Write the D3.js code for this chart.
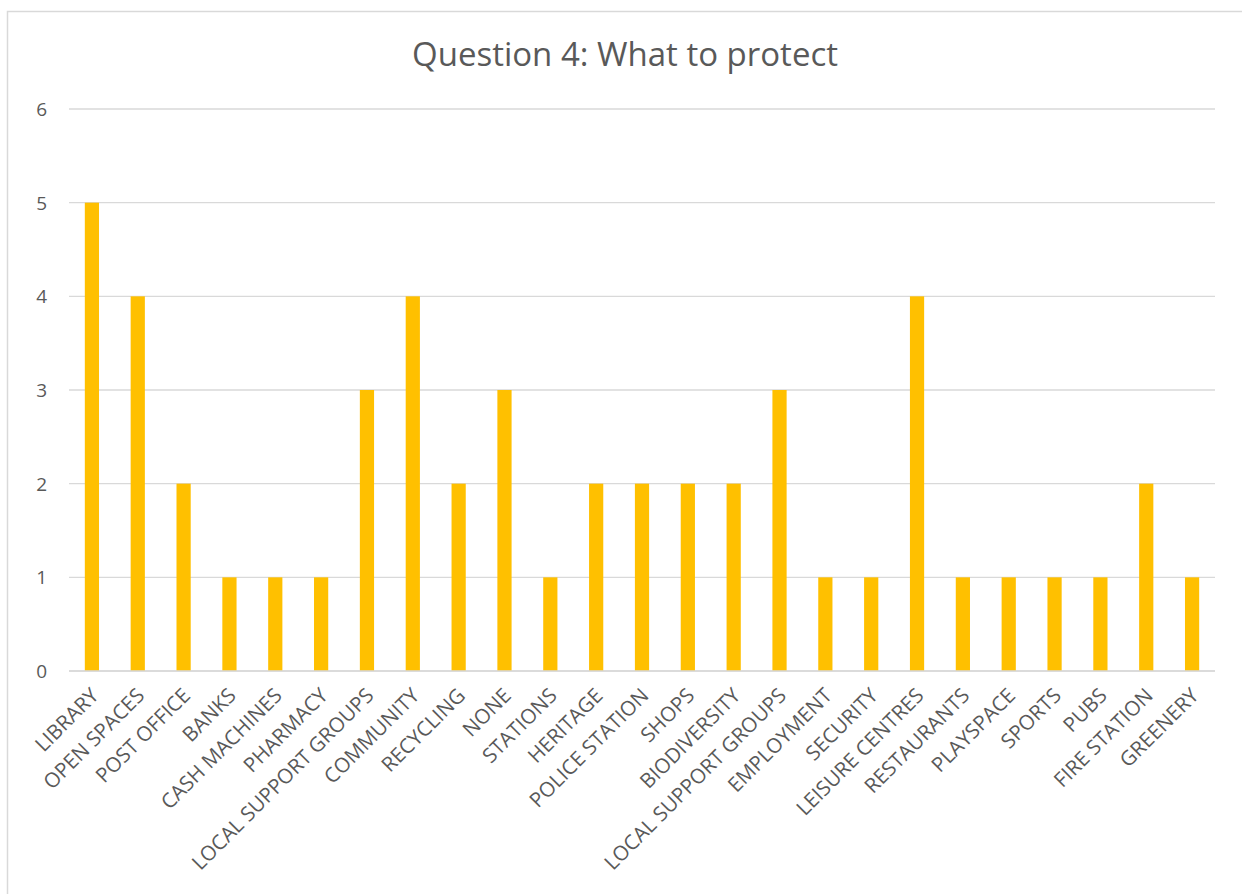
<!DOCTYPE html>
<html>
<head>
<meta charset="utf-8">
<script src="https://cdn.jsdelivr.net/npm/d3@7"></script>
<style>
  html, body { margin: 0; padding: 0; background: #fff; }
  svg { display: block; }
</style>
</head>
<body>
<svg id="chart" width="1242" height="894"></svg>
<script>
// Responses to Question 4
const categories = [
  "LIBRARY", "OPEN SPACES", "POST OFFICE", "BANKS", "CASH MACHINES", "PHARMACY",
  "LOCAL SUPPORT GROUPS", "COMMUNITY", "RECYCLING", "NONE", "STATIONS", "HERITAGE",
  "POLICE STATION", "SHOPS", "BIODIVERSITY", "LOCAL SUPPORT GROUPS", "EMPLOYMENT",
  "SECURITY", "LEISURE CENTRES", "RESTAURANTS", "PLAYSPACE", "SPORTS", "PUBS",
  "FIRE STATION", "GREENERY"
];
const counts = [5, 4, 2, 1, 1, 1, 3, 4, 2, 3, 1, 2, 2, 2, 2, 3, 1, 1, 4, 1, 1, 1, 1, 2, 1];
const yTicks = [0, 1, 2, 3, 4, 5, 6];
const title = "Question 4: What to protect";

const svg = d3.select("#chart");
const font = "'Open Sans', 'Noto Sans', sans-serif";
const textColor = "#595959";

// chart frame
svg.append("rect")
  .attr("x", 7.5).attr("y", 11.5)
  .attr("width", 1260).attr("height", 900)
  .attr("fill", "#fff")
  .attr("stroke", "#d9d9d9").attr("stroke-width", 1.5);

const plot = { left: 69, right: 1215, top: 109, bottom: 671 };

const x = d3.scaleBand()
  .domain(d3.range(categories.length))
  .range([plot.left, plot.right])
  .paddingInner(0.69)
  .paddingOuter(0.345);

const y = d3.scaleLinear()
  .domain([0, 6])
  .range([plot.bottom, plot.top]);

// gridlines
svg.append("g")
  .selectAll("line")
  .data(yTicks)
  .join("line")
  .attr("x1", plot.left).attr("x2", plot.right)
  .attr("y1", d => y(d)).attr("y2", d => y(d))
  .attr("stroke", "#d9d9d9").attr("stroke-width", 1.3);

// y axis labels
svg.append("g")
  .selectAll("text")
  .data(yTicks)
  .join("text")
  .attr("x", 47).attr("y", d => y(d))
  .attr("dy", "0.36em")
  .attr("text-anchor", "end")
  .attr("font-family", font).attr("font-size", 19)
  .attr("fill", textColor)
  .text(d => d);

// bars
svg.append("g")
  .selectAll("rect")
  .data(counts)
  .join("rect")
  .attr("x", (d, i) => x(i))
  .attr("width", x.bandwidth())
  .attr("y", d => y(d))
  .attr("height", d => y(0) - y(d))
  .attr("fill", "#ffc000");

// category labels, rotated
svg.append("g")
  .selectAll("text")
  .data(categories)
  .join("text")
  .attr("transform", (d, i) => `translate(${x(i) + x.bandwidth() / 2 - 3},${plot.bottom + 15}) rotate(-45)`)
  .attr("text-anchor", "end")
  .attr("dy", "0.75em")
  .attr("font-family", font).attr("font-size", 20.5)
  .attr("fill", textColor)
  .text(d => d);

// baseline
svg.append("line")
  .attr("x1", plot.left).attr("x2", plot.right)
  .attr("y1", y(0)).attr("y2", y(0))
  .attr("stroke", "#d9d9d9").attr("stroke-width", 1.3);

// title
svg.append("text")
  .attr("x", 625).attr("y", 66)
  .attr("text-anchor", "middle")
  .attr("font-family", font).attr("font-size", 33)
  .attr("fill", textColor)
  .text(title);
</script>
</body>
</html>
